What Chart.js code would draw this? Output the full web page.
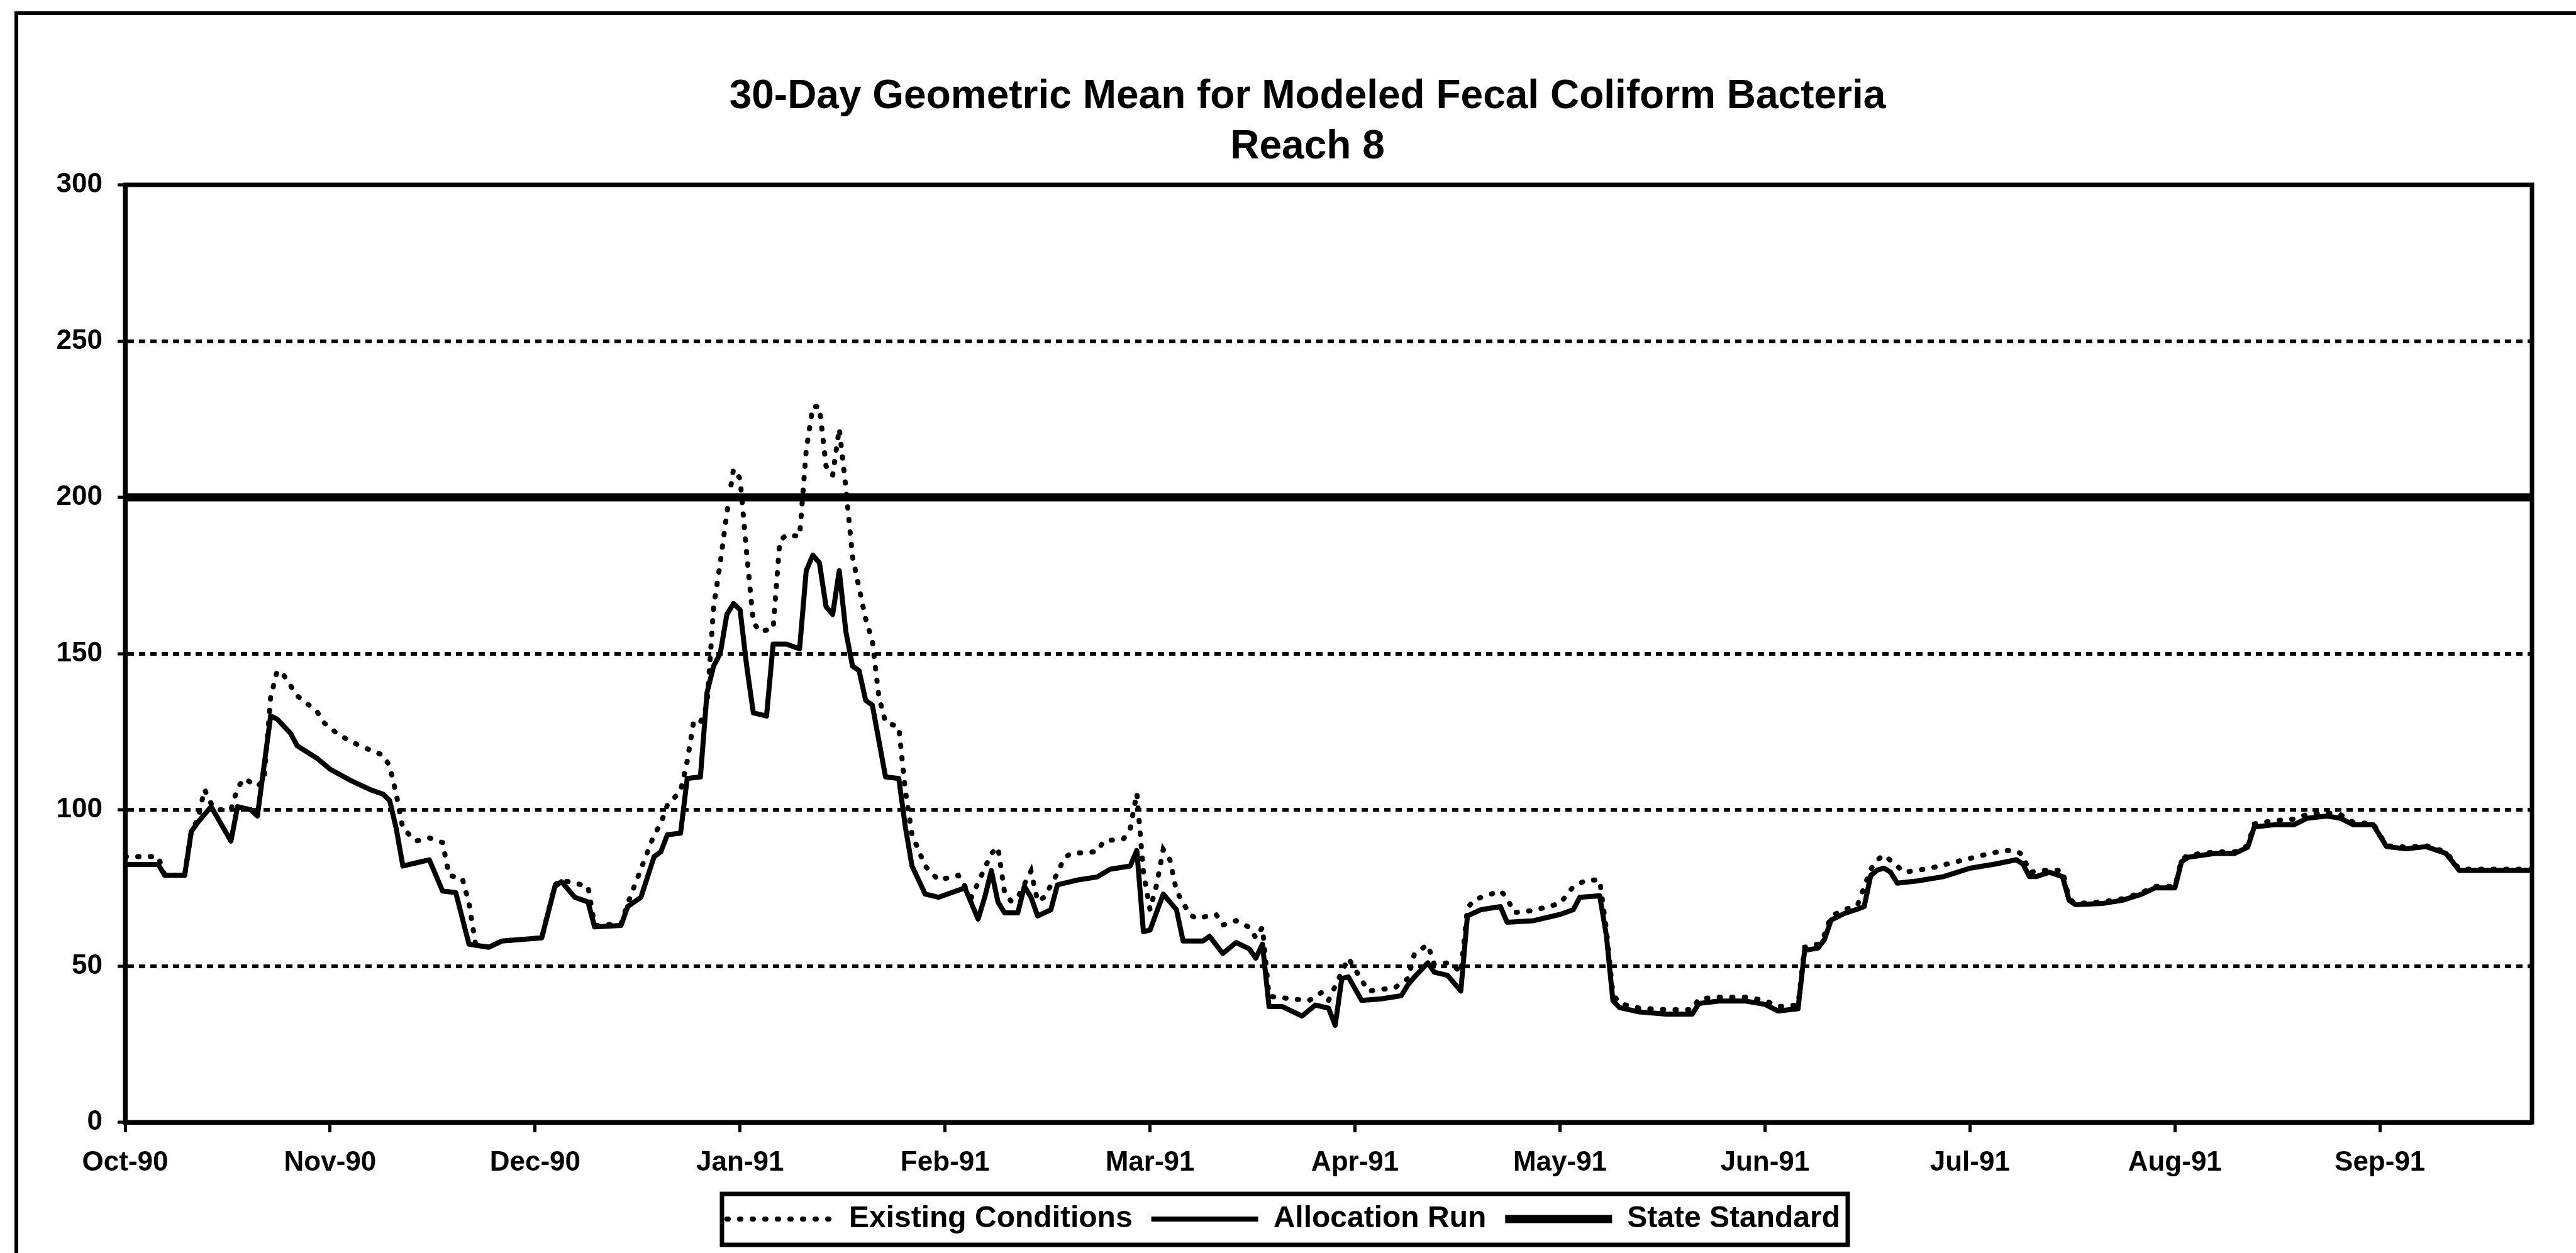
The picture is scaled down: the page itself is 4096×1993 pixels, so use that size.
<!DOCTYPE html>
<html>
<head>
<meta charset="utf-8">
<title>30-Day Geometric Mean for Modeled Fecal Coliform Bacteria - Reach 8</title>
<script src="https://cdn.jsdelivr.net/npm/chart.js@4/dist/chart.umd.min.js"></script>
<style>
  html, body { margin: 0; padding: 0; background: #fff; }
  canvas { display: block; }
</style>
</head>
<body>
<canvas id="fecal-chart" width="4096" height="1993"></canvas>
<script>
// ---------------------------------------------------------------
// Data (day 0 = 1 Oct 1990, day 364 = 30 Sep 1991)
// ---------------------------------------------------------------
const chartTitle = ['30-Day Geometric Mean for Modeled Fecal Coliform Bacteria', 'Reach 8'];
const seriesNames = ['Existing Conditions', 'Allocation Run', 'State Standard'];
const monthLabels = ['Oct-90', 'Nov-90', 'Dec-90', 'Jan-91', 'Feb-91', 'Mar-91',
                     'Apr-91', 'May-91', 'Jun-91', 'Jul-91', 'Aug-91', 'Sep-91'];
const daysPerTick = 31;
const lastDay = 364;
const stateStandard = 200;

const existingDays = [0, 5, 6, 9, 10, 11, 12, 13, 14, 16, 17, 18, 20, 21, 22, 23, 24, 26, 29, 30,
  32, 34, 36, 39, 40, 41, 42, 44, 46, 48, 49, 51, 52, 53, 55, 57, 63, 65, 66, 68,
  70, 71, 75, 76, 78, 80, 81, 82, 84, 85, 86, 87, 88, 89, 90, 91, 92, 93, 94, 95,
  96, 98, 99, 100, 102, 103, 104, 105, 106, 107, 108, 109, 110, 111, 112, 113, 114, 115, 117, 118,
  119, 121, 123, 126, 128, 131, 132, 133, 134, 135, 137, 138, 139, 141, 142, 143, 147, 148, 151, 152,
  153, 154, 155, 156, 157, 158, 159, 161, 162, 165, 166, 168, 170, 171, 172, 173, 176, 179, 181, 182,
  184, 185, 186, 188, 192, 194, 195, 197, 198, 200, 201, 202, 203, 204, 206, 208, 209, 210, 213, 217,
  219, 221, 223, 224, 225, 226, 229, 233, 237, 238, 241, 245, 248, 250, 253, 254, 256, 257, 258, 260,
  262, 264, 265, 266, 268, 269, 273, 277, 281, 284, 286, 287, 288, 290, 293, 294, 295, 299, 302, 305,
  307, 310, 311, 312, 316, 319, 321, 322, 325, 328, 330, 333, 335, 337, 340, 342, 345, 348, 351, 353,
  357, 364];
const existingValues = [85, 85, 79, 79, 93, 97, 106.5, 102, 100, 100, 107, 110, 107.5, 109.5, 136, 144.5, 143, 136.5, 131.5, 128,
  124.5, 122, 120, 117.5, 114, 105, 94, 90, 91, 89.5, 79, 78, 70, 57, 56, 58, 59, 76, 77.5, 76.5,
  75.5, 63, 63.5, 70, 81, 92, 95.5, 101.5, 106, 115.5, 128.5, 128, 133.5, 165, 179, 195, 209, 206, 182, 160,
  157, 158, 186, 188, 187.5, 215, 229, 229, 210, 207, 222, 203, 181, 171, 161, 154, 136, 128, 126.5, 106,
  92, 82, 77.5, 79, 72, 86, 88, 73.5, 70.7, 72, 80.4, 70.7, 72, 79.7, 84.5, 86, 86.6, 90, 90.7, 94,
  105.3, 80, 68, 76, 87.3, 84, 74, 66.5, 65.2, 66.5, 63.1, 64.5, 62.4, 59, 62.4, 40.3, 39.6, 38.9, 41.6, 39,
  48, 52.5, 49, 42, 43, 46, 54, 56.8, 50.5, 51, 50, 47.8, 68.5, 71.2, 72.6, 74, 71.9, 67.1, 67.8, 70,
  75.4, 77.5, 77.5, 62, 41, 38, 36.5, 36, 36, 39.5, 40, 40, 39, 37, 37.5, 56, 57, 60, 66, 68,
  69.5, 81, 84, 85.5, 82, 80, 81.3, 83.4, 85.5, 86.9, 86.9, 85.5, 80, 80.6, 80.6, 71.5, 70, 70.5, 71.5, 73.5,
  75.5, 75.5, 84, 85.5, 86.5, 86.5, 88.5, 95.5, 96.5, 97, 98.5, 99, 98.5, 96, 95.5, 88.5, 88, 88.5, 86.5, 81,
  81, 81];

const allocationDays = [0, 5, 6, 9, 10, 11, 13, 16, 17, 19, 20, 22, 23, 25, 26, 29, 31, 34, 37, 39,
  40, 41, 42, 44, 46, 48, 50, 52, 55, 57, 63, 65, 66, 68, 70, 71, 75, 76, 78, 80,
  81, 82, 84, 85, 87, 88, 89, 90, 91, 92, 93, 94, 95, 97, 98, 100, 102, 103, 104, 105,
  106, 107, 108, 109, 110, 111, 112, 113, 115, 117, 118, 119, 120, 121, 123, 127, 129, 130, 131, 132,
  133, 135, 136, 137, 138, 140, 141, 144, 147, 149, 152, 153, 154, 155, 157, 159, 160, 163, 164, 166,
  168, 170, 171, 172, 173, 175, 178, 180, 182, 183, 184, 185, 187, 190, 193, 194, 195, 197, 198, 200,
  202, 203, 205, 208, 209, 213, 217, 219, 220, 223, 224, 225, 226, 229, 233, 237, 238, 241, 245, 248,
  250, 253, 254, 256, 257, 258, 260, 262, 263, 264, 265, 266, 267, 268, 271, 275, 279, 283, 286, 287,
  288, 289, 291, 293, 294, 295, 299, 302, 305, 307, 310, 311, 312, 316, 319, 321, 322, 325, 328, 330,
  333, 335, 337, 340, 342, 345, 348, 351, 353, 357, 364];
const allocationValues = [82.5, 82.5, 79, 79, 93, 96, 101, 90, 101, 100, 98, 130, 129, 124.5, 120.5, 116.5, 113, 109.5, 106.5, 105,
  103, 94, 82, 83, 84, 74, 73.5, 57, 56, 58, 59, 75.5, 77, 72, 70.5, 62.5, 63, 69, 72, 85,
  86.5, 92, 92.5, 110, 110.5, 137.5, 146, 150, 162.5, 166, 164, 146, 131, 130, 153, 153, 151.5, 176.5, 181.5, 179,
  165, 162.5, 176.5, 157, 146, 144.5, 135, 133.5, 110.5, 110, 94.5, 82, 77.5, 73, 72, 75, 65, 72, 80.5, 70.5,
  67, 67, 75.5, 72, 66, 68, 76, 77.5, 78.5, 81, 82, 87, 61, 61.5, 73, 68, 58, 58, 59.5, 54,
  57.5, 55.5, 52.5, 57, 37, 37, 34, 37.5, 36.5, 31, 46, 46.5, 39, 39.5, 40.5, 44, 46.5, 51, 48, 47,
  42, 66, 68, 69, 64, 64.5, 66.5, 68, 72, 72.5, 60, 39, 36.7, 35.3, 34.6, 34.6, 38, 38.8, 38.8, 37.7,
  35.6, 36.3, 55, 55.7, 58.5, 64.7, 66.8, 68.2, 69, 79, 80.7, 81.3, 80, 76.5, 77.2, 78.6, 81.3, 82.7, 84, 82.7,
  78.6, 78.6, 80, 78.6, 71, 69.6, 70, 71, 73, 75, 75, 83.4, 84.8, 86, 86, 88, 94.5, 95.2, 95.2, 97.3,
  98, 97.3, 95.2, 95.2, 88.2, 87.5, 88.2, 86, 80.6, 80.6, 80.6];

const yTicks = [0, 50, 100, 150, 200, 250, 300];

// ---------------------------------------------------------------
// Styling
// ---------------------------------------------------------------
const FONT = "'Liberation Sans', Arial, sans-serif";
const INK = '#000';
const TITLE_SHIFT = 66;   // title sits a little right of the canvas centre
const LEGEND_SHIFT = 28;

Chart.defaults.font.family = FONT;
Chart.defaults.font.weight = 'bold';
Chart.defaults.color = INK;

const toPoints = (days, vals) => days.map((d, i) => ({ x: d, y: vals[i] }));

// plot frame + page frame + legend border
const framePlugin = {
    id: 'frames',
    afterLayout(chart) {
        const t = chart.titleBlock;
        if (t) { t.left += TITLE_SHIFT; t.right += TITLE_SHIFT; }
        const lg = chart.legend;
        if (lg) { lg.left += LEGEND_SHIFT; lg.right += LEGEND_SHIFT; }
    },
    beforeDraw(chart) {
        const ctx = chart.ctx;
        ctx.save();
        ctx.fillStyle = '#fff';
        ctx.fillRect(0, 0, chart.width, chart.height);
        ctx.fillStyle = INK;
        ctx.fillRect(23, 18, chart.width, 6);   // outer frame top
        ctx.fillRect(23, 18, 6, chart.height);  // outer frame left
        ctx.restore();
    },
    afterDraw(chart) {
        const ctx = chart.ctx;
        const a = chart.chartArea;
        ctx.save();
        ctx.strokeStyle = INK;
        ctx.lineWidth = 7;
        ctx.strokeRect(a.left, a.top, a.right - a.left, a.bottom - a.top);

        const lg = chart.legend;
        const boxes = lg.legendHitBoxes || [];
        if (boxes.length) {
            const left = Math.min(...boxes.map(b => b.left)) - 8;
            const right = Math.max(...boxes.map(b => b.left + b.width)) + 12;
            const cy = boxes[0].top + boxes[0].height / 2;
            ctx.lineWidth = 7;
            ctx.strokeRect(left, cy - 40, right - left, 81);
        }
        ctx.restore();
    }
};

const ctx = document.getElementById('fecal-chart').getContext('2d');

new Chart(ctx, {
    type: 'line',
    data: {
        datasets: [
            {
                label: seriesNames[0],
                data: toPoints(existingDays, existingValues),
                borderColor: INK,
                borderWidth: 8,
                borderDash: [2, 18],
                borderCapStyle: 'round',
                pointRadius: 0,
                tension: 0
            },
            {
                label: seriesNames[1],
                data: toPoints(allocationDays, allocationValues),
                borderColor: INK,
                borderWidth: 8,
                borderJoinStyle: 'round',
                pointRadius: 0,
                tension: 0
            },
            {
                label: seriesNames[2],
                data: toPoints([0, lastDay], [stateStandard, stateStandard]),
                borderColor: INK,
                borderWidth: 13,
                pointRadius: 0,
                tension: 0
            }
        ]
    },
    options: {
        responsive: false,
        animation: false,
        devicePixelRatio: 1,
        layout: { padding: { left: 0, right: 70, top: 0, bottom: 20 } },
        plugins: {
            title: {
                display: true,
                text: chartTitle,
                color: INK,
                font: { size: 64, weight: 'bold', family: FONT, lineHeight: 80 / 64 },
                padding: { top: 114, bottom: 20 }
            },
            legend: {
                position: 'bottom',
                labels: {
                    color: INK,
                    font: { size: 48, weight: 'bold', family: FONT },
                    padding: 30,
                    usePointStyle: true,
                    pointStyle: 'line',
                    pointStyleWidth: 170,
                    generateLabels: (chart) => chart.data.datasets.map((ds, i) => ({
                        text: ds.label,
                        strokeStyle: ds.borderColor,
                        fillStyle: ds.borderColor,
                        fontColor: INK,
                        lineWidth: ds.borderWidth,
                        lineDash: ds.borderDash || [],
                        lineCap: ds.borderCapStyle || 'butt',
                        pointStyle: 'line',
                        hidden: false,
                        datasetIndex: i
                    }))
                }
            },
            tooltip: { enabled: false }
        },
        scales: {
            x: {
                type: 'linear',
                min: 0,
                max: lastDay,
                afterFit: (scale) => { scale.height = 100; },
                border: { display: true, color: INK, width: 7 },
                grid: {
                    drawOnChartArea: false,
                    drawTicks: true,
                    tickLength: 16,
                    tickWidth: 5,
                    tickColor: INK,
                    color: INK
                },
                ticks: {
                    stepSize: daysPerTick,
                    includeBounds: false,
                    autoSkip: false,
                    maxRotation: 0,
                    padding: 22,
                    color: INK,
                    font: { size: 44, weight: 'bold' },
                    callback: (v) => {
                        const k = Math.round(v / daysPerTick);
                        return (v % daysPerTick === 0 && monthLabels[k]) ? monthLabels[k] : null;
                    }
                }
            },
            y: {
                min: yTicks[0],
                max: yTicks[yTicks.length - 1],
                afterFit: (scale) => { scale.width = 199; },
                border: { display: true, color: INK, width: 7, dash: [10, 8] },
                grid: {
                    lineWidth: 6,
                    color: (c) => (c.tick && (c.tick.value === yTicks[0] || c.tick.value === yTicks[yTicks.length - 1])) ? 'rgba(0,0,0,0)' : INK,
                    tickColor: INK,
                    tickLength: 12,
                    tickWidth: 5
                },
                ticks: {
                    stepSize: 50,
                    padding: 24,
                    color: INK,
                    font: { size: 44, weight: 'bold' }
                }
            }
        }
    },
    plugins: [framePlugin]
});
</script>
</body>
</html>
